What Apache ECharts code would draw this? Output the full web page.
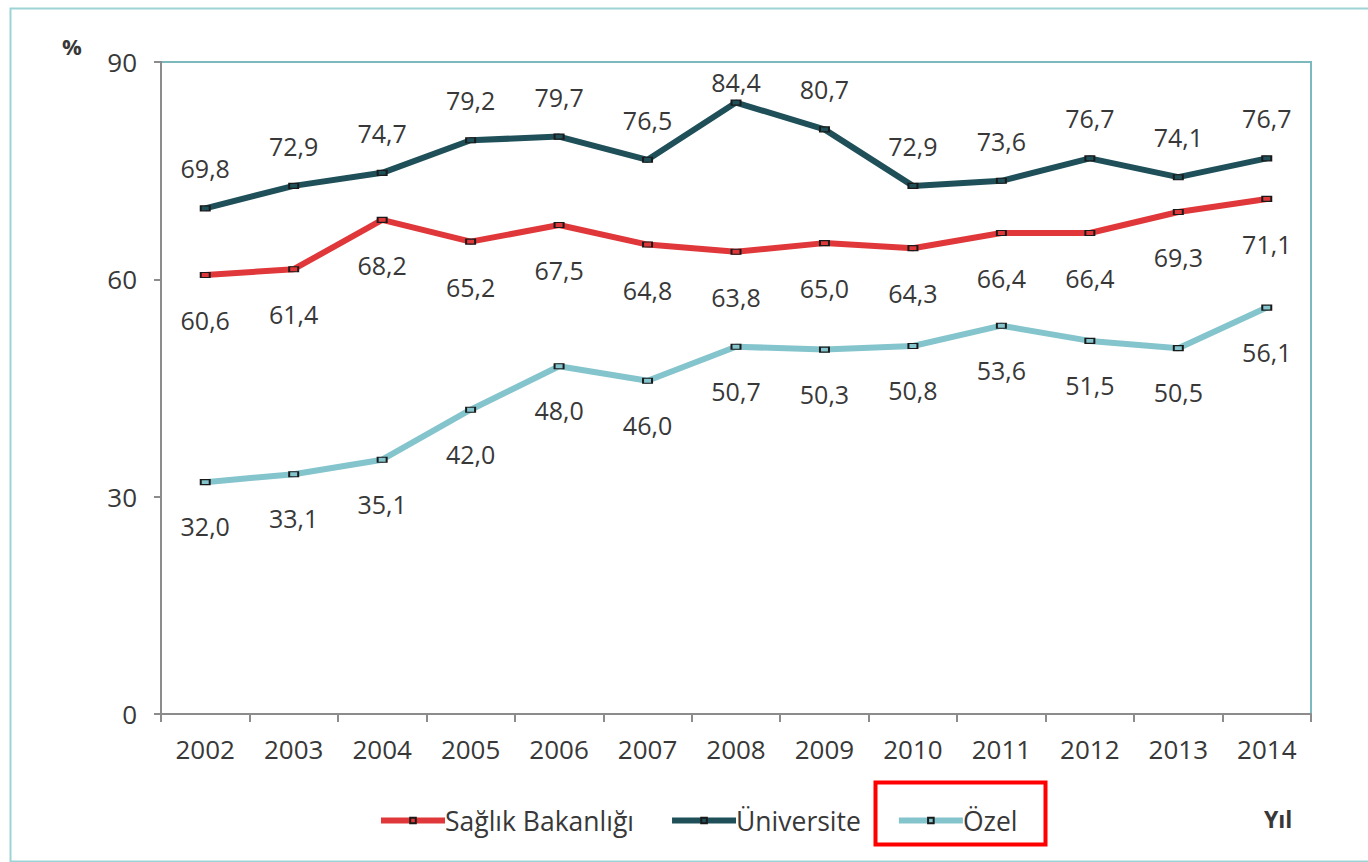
<!DOCTYPE html>
<html>
<head>
<meta charset="utf-8">
<script src="https://cdn.jsdelivr.net/npm/echarts@6/dist/echarts.min.js"></script>
<style>
html,body{margin:0;padding:0;background:#fff;}
#c{width:1368px;height:862px;}
</style>
</head>
<body>
<div id="c"></div>
<script>
const years = ['2002','2003','2004','2005','2006','2007','2008','2009','2010','2011','2012','2013','2014'];
const saglik = [60.6, 61.4, 68.2, 65.2, 67.5, 64.8, 63.8, 65.0, 64.3, 66.4, 66.4, 69.3, 71.1];
const universite = [69.8, 72.9, 74.7, 79.2, 79.7, 76.5, 84.4, 80.7, 72.9, 73.6, 76.7, 74.1, 76.7];
const ozel = [32.0, 33.1, 35.1, 42.0, 48.0, 46.0, 50.7, 50.3, 50.8, 53.6, 51.5, 50.5, 56.1];
const yTicks = [0, 30, 60, 90];
const seriesNames = ['Sağlık Bakanlığı', 'Üniversite', 'Özel'];

const FONT = 'Open Sans';
const TXT = '#383838';
const fmt = v => v.toFixed(1).replace('.', ',');

function mkData(vals, dy, special) {
  return vals.map((v, i) => {
    const off = (special && special[i] !== undefined) ? special[i] : dy;
    return { value: v, label: { offset: [0, off] } };
  });
}

const colors = ['#e0383a', '#1f5059', '#84c4cc'];

function mkSeries(name, vals, color, dy, special) {
  return {
    name: name,
    type: 'line',
    data: mkData(vals, dy, special),
    symbol: 'rect',
    symbolSize: [9, 5],
    showAllSymbol: true,
    lineStyle: { color: color, width: 6 },
    itemStyle: { color: color, borderColor: '#1a1a1a', borderWidth: 1.5 },
    label: {
      show: true,
      position: 'inside',
      formatter: p => fmt(p.value),
      fontFamily: FONT,
      fontSize: 25,
      color: TXT
    },
    emphasis: { disabled: true },
    animation: false
  };
}

const chart = echarts.init(document.getElementById('c'), null, { renderer: 'svg' });
chart.setOption({
  backgroundColor: '#ffffff',
  animation: false,
  grid: {
    left: 161, top: 62, right: 57, bottom: 148,
    show: true, borderColor: '#7bb9bd', borderWidth: 2, backgroundColor: 'transparent'
  },
  legend: {
    data: seriesNames,
    left: 373, top: 802,
    itemWidth: 64, itemHeight: 7,
    itemGap: 35,
    lineStyle: { width: 6 },
    textStyle: { fontFamily: FONT, fontSize: 26.5, color: TXT, padding: [0, 0, 0, -5] },
    selectedMode: false
  },
  xAxis: {
    type: 'category',
    data: years,
    boundaryGap: true,
    axisLine: { lineStyle: { color: '#8c8c8c', width: 2 } },
    axisTick: { show: true, length: 8, lineStyle: { color: '#8c8c8c', width: 2 } },
    axisLabel: { fontFamily: FONT, fontSize: 26, color: TXT, margin: 22 },
    splitLine: { show: false }
  },
  yAxis: {
    type: 'value',
    min: yTicks[0], max: yTicks[yTicks.length - 1], interval: 30,
    axisLine: { show: true, lineStyle: { color: '#8c8c8c', width: 2 } },
    axisTick: { show: true, length: 7, lineStyle: { color: '#8c8c8c', width: 2 } },
    axisLabel: { fontFamily: FONT, fontSize: 26, color: TXT, margin: 24 },
    splitLine: { show: false }
  },
  series: [
    mkSeries(seriesNames[0], saglik, colors[0], 45),
    mkSeries(seriesNames[1], universite, colors[1], -40, { 6: -21 }),
    mkSeries(seriesNames[2], ozel, colors[2], 44)
  ],
  graphic: [
    { type: 'rect', left: 8, top: 6, z: -10, silent: true,
      shape: { width: 1380, height: 853 },
      style: { fill: 'none', stroke: '#9dd3d6', lineWidth: 2 } },
    { type: 'text', left: 62, top: 35, silent: true,
      style: { text: '%', fontFamily: FONT, fontSize: 22, fontWeight: 'bold', fill: TXT } },
    { type: 'text', left: 1264, top: 807, silent: true,
      style: { text: 'Yıl', fontFamily: FONT, fontSize: 23, fontWeight: 'bold', fill: TXT } },
    { type: 'rect', left: 873, top: 780, silent: true,
      shape: { width: 170, height: 62 },
      style: { fill: 'none', stroke: '#ff0000', lineWidth: 4 } }
  ]
});
</script>
</body>
</html>
